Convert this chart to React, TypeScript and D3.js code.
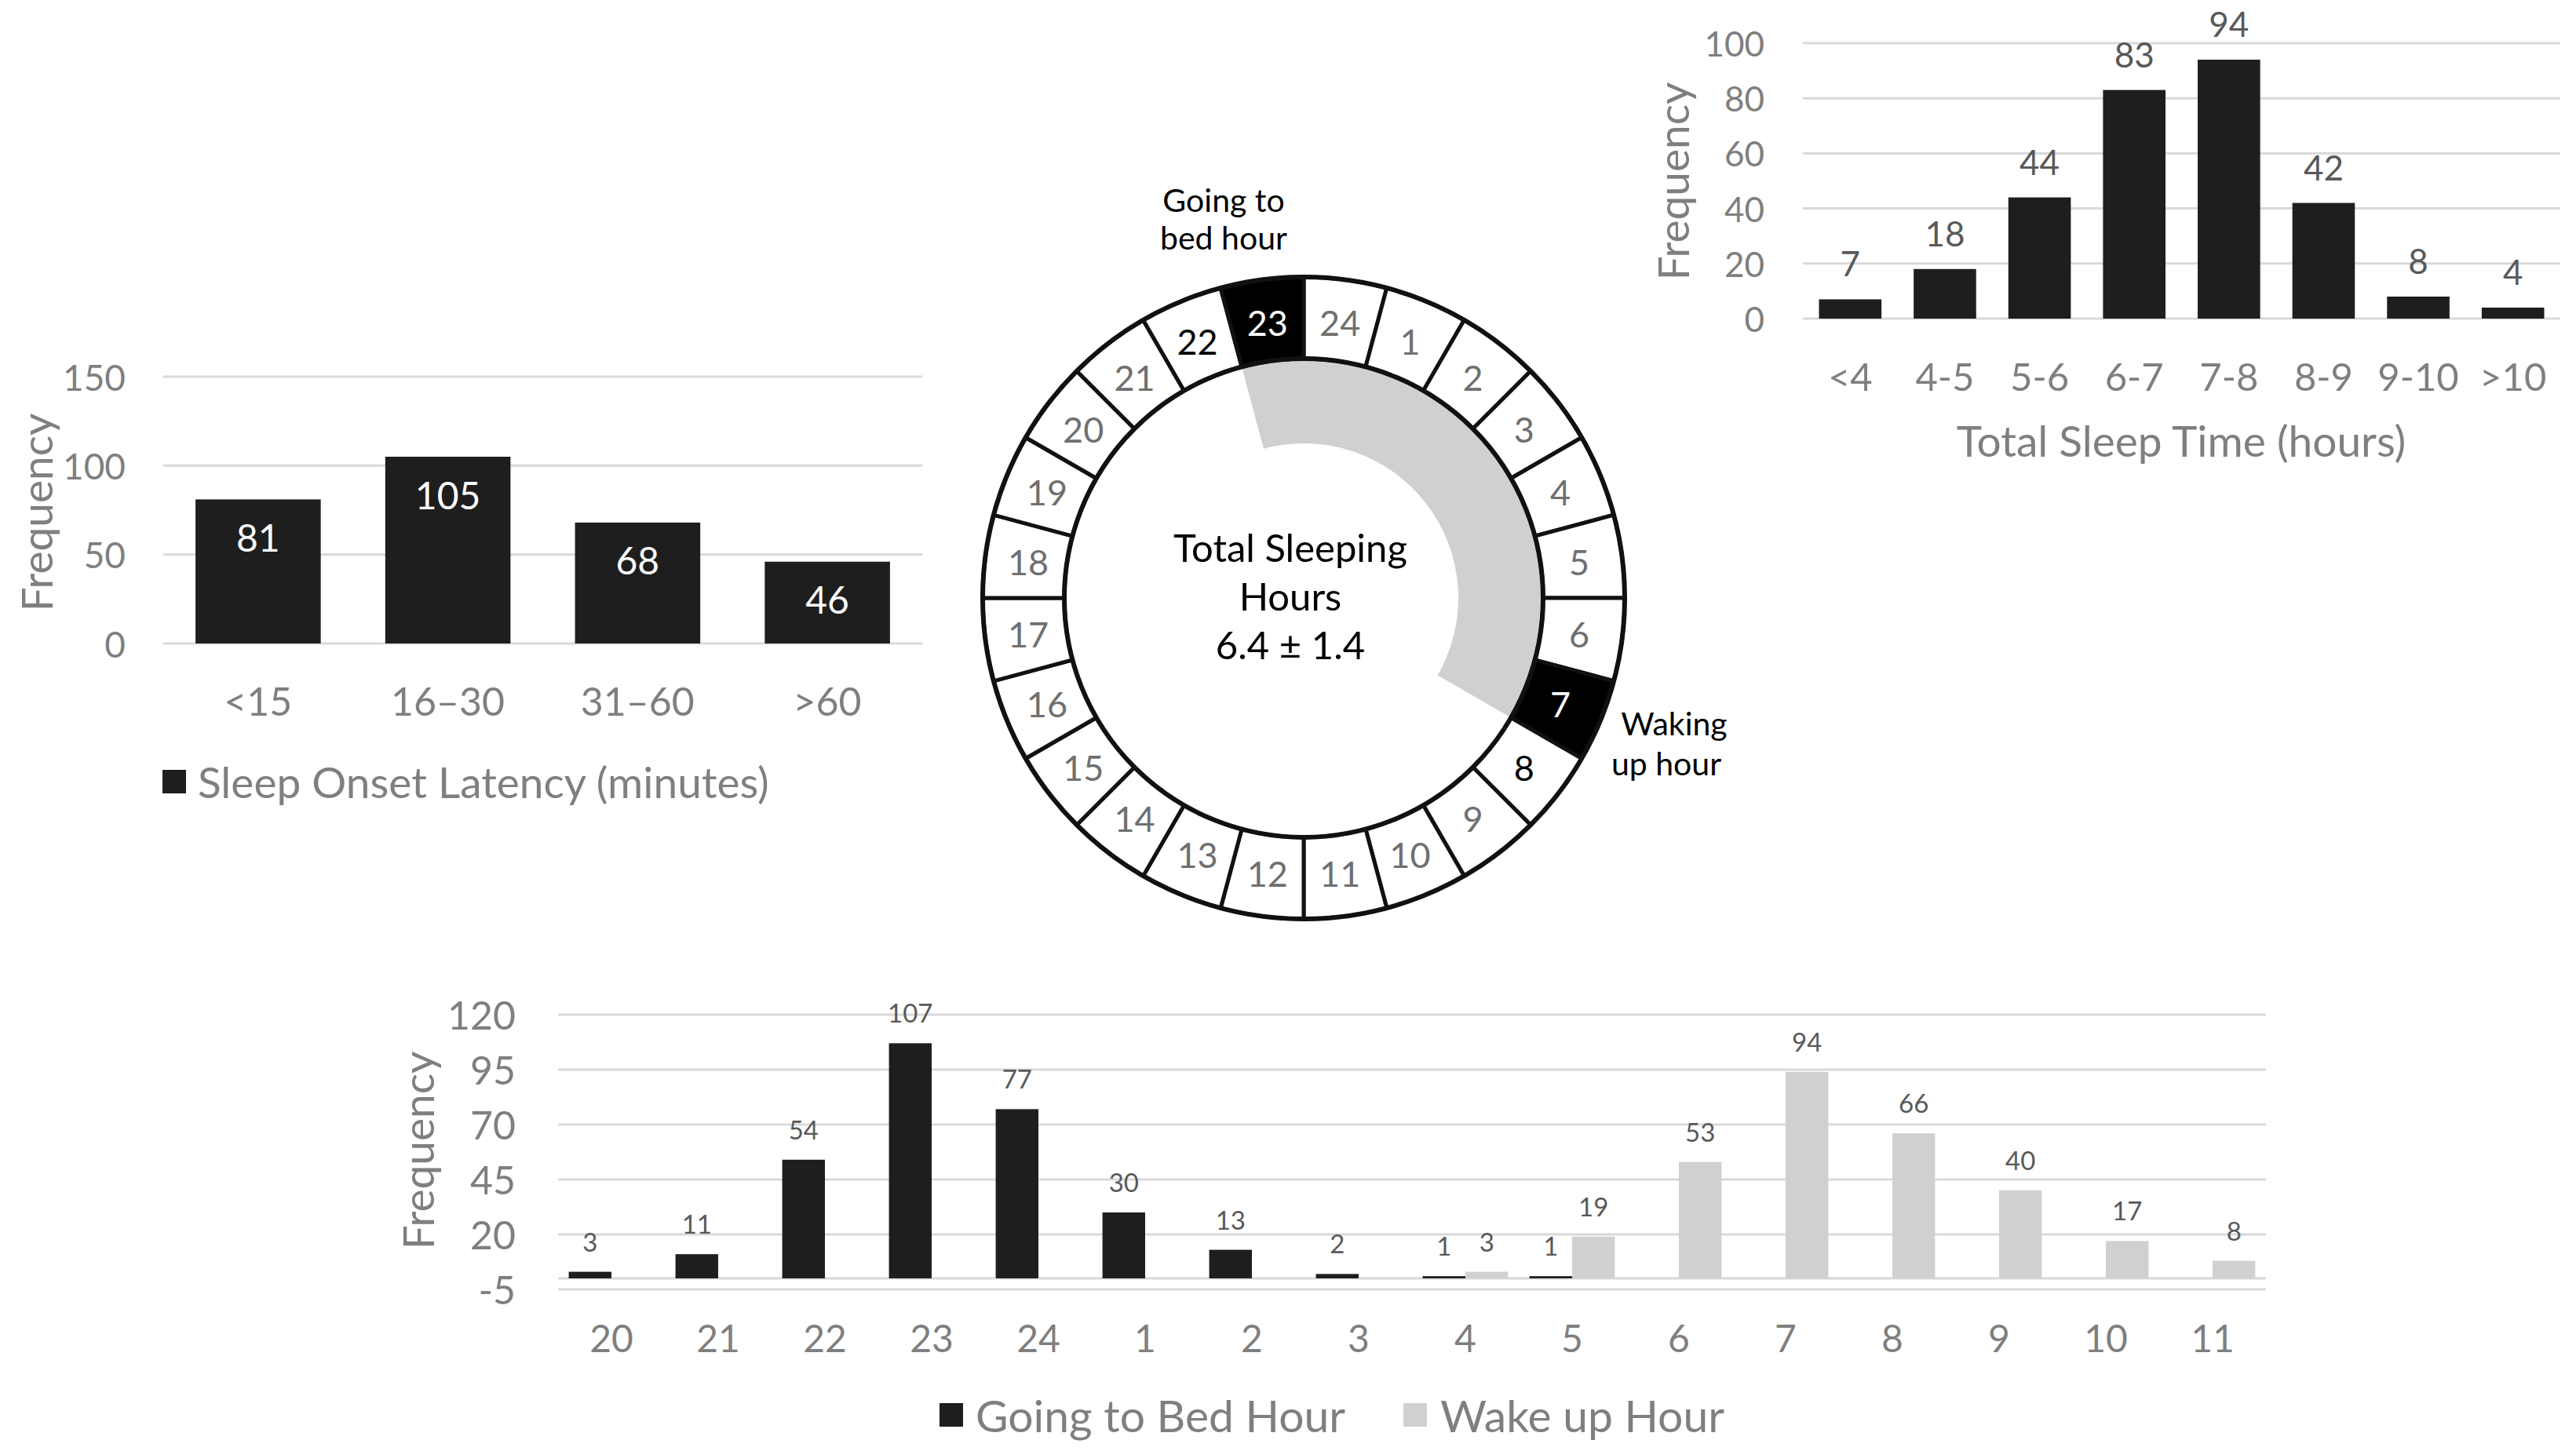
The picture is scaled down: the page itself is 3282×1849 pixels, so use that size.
import React from "react";
import * as d3 from "d3";

// ---- Data ----
const latencyCats = ["<15", "16–30", "31–60", ">60"];
const latencyVals = [81, 105, 68, 46];
const latencyTicks = [0, 50, 100, 150];

const sleepCats = ["<4", "4-5", "5-6", "6-7", "7-8", "8-9", "9-10", ">10"];
const sleepVals = [7, 18, 44, 83, 94, 42, 8, 4];
const sleepTicks = [0, 20, 40, 60, 80, 100];

const hourCats = ["20", "21", "22", "23", "24", "1", "2", "3", "4", "5", "6", "7", "8", "9", "10", "11"];
const bedVals = [3, 11, 54, 107, 77, 30, 13, 2, 1, 1, 0, 0, 0, 0, 0, 0];
const wakeVals = [0, 0, 0, 0, 0, 0, 0, 0, 3, 19, 53, 94, 66, 40, 17, 8];
const hourTicks = [-5, 20, 45, 70, 95, 120];

const ringHours = [24, 1, 2, 3, 4, 5, 6, 7, 8, 9, 10, 11, 12, 13, 14, 15, 16, 17, 18, 19, 20, 21, 22, 23];
const bedHour = 23;
const wakeHour = 7;
const centerLines = ["Total Sleeping", "Hours", "6.4 ± 1.4"];

const FONT = "Lato, 'Open Sans', sans-serif";
const GREY = "#7f7f7f";
const LABEL = "#595959";
const GRID = "#d9d9d9";
const BAR = "#1e1e1e";
const LIGHT = "#d0d0d0";

function LatencyChart() {
  const x = d3.scaleBand<string>().domain(latencyCats).range([208, 1175]).paddingInner(0.34).paddingOuter(0.17);
  const y = d3.scaleLinear().domain([0, 150]).range([820, 480]);
  return (
    <g>
      {latencyTicks.map((t) => (
        <g key={t}>
          <line x1={208} x2={1175} y1={y(t)} y2={y(t)} stroke={GRID} strokeWidth={3} />
          <text x={160} y={y(t)} textAnchor="end" dominantBaseline="central" fill={GREY} fontSize={46}>{t}</text>
        </g>
      ))}
      {latencyCats.map((c, i) => (
        <g key={c}>
          <rect x={x(c)} y={y(latencyVals[i])} width={x.bandwidth()} height={y(0) - y(latencyVals[i])} fill={BAR} />
          <text x={x(c)! + x.bandwidth() / 2} y={y(latencyVals[i]) + 48} textAnchor="middle" dominantBaseline="central" fill="#fff" fontSize={48}>{latencyVals[i]}</text>
          <text x={x(c)! + x.bandwidth() / 2} y={893} textAnchor="middle" dominantBaseline="central" fill={GREY} fontSize={50}>{c}</text>
        </g>
      ))}
      <text transform={`translate(46,653) rotate(-90)`} textAnchor="middle" dominantBaseline="central" fill={GREY} fontSize={55}>Frequency</text>
      <rect x={207} y={981} width={30} height={30} fill={BAR} />
      <text x={252} y={996} dominantBaseline="central" fill={GREY} fontSize={55}>Sleep Onset Latency (minutes)</text>
    </g>
  );
}

function SleepTimeChart() {
  const x = d3.scaleBand<string>().domain(sleepCats).range([2297, 3262]).paddingInner(0.34).paddingOuter(0.17);
  const y = d3.scaleLinear().domain([0, 100]).range([406, 55]);
  return (
    <g>
      {sleepTicks.map((t) => (
        <g key={t}>
          <line x1={2297} x2={3262} y1={y(t)} y2={y(t)} stroke={GRID} strokeWidth={3} />
          <text x={2248} y={y(t)} textAnchor="end" dominantBaseline="central" fill={GREY} fontSize={44}>{t}</text>
        </g>
      ))}
      {sleepCats.map((c, i) => (
        <g key={c}>
          <rect x={x(c)} y={y(sleepVals[i])} width={x.bandwidth()} height={y(0) - y(sleepVals[i])} fill={BAR} />
          <text x={x(c)! + x.bandwidth() / 2} y={y(sleepVals[i]) - 46} textAnchor="middle" dominantBaseline="central" fill={LABEL} fontSize={44}>{sleepVals[i]}</text>
          <text x={x(c)! + x.bandwidth() / 2} y={479} textAnchor="middle" dominantBaseline="central" fill={GREY} fontSize={49}>{c}</text>
        </g>
      ))}
      <text transform={`translate(2131,231) rotate(-90)`} textAnchor="middle" dominantBaseline="central" fill={GREY} fontSize={55}>Frequency</text>
      <text x={2779} y={561} textAnchor="middle" dominantBaseline="central" fill={GREY} fontSize={55}>Total Sleep Time (hours)</text>
    </g>
  );
}

function HourChart() {
  const x0 = d3.scaleBand<string>().domain(hourCats).range([711, 2887]).paddingInner(0.2).paddingOuter(0.1);
  const x1 = d3.scaleBand<string>().domain(["bed", "wake"]).range([0, x0.bandwidth()]);
  const y = d3.scaleLinear().domain([-5, 120]).range([1643, 1293]);
  const series = [
    { key: "bed", vals: bedVals, color: BAR },
    { key: "wake", vals: wakeVals, color: LIGHT },
  ];
  return (
    <g>
      {hourTicks.map((t) => (
        <g key={t}>
          <line x1={711} x2={2887} y1={y(t)} y2={y(t)} stroke={GRID} strokeWidth={3} />
          <text x={657} y={y(t)} textAnchor="end" dominantBaseline="central" fill={GREY} fontSize={50}>{t}</text>
        </g>
      ))}
      <line x1={711} x2={2887} y1={y(0)} y2={y(0)} stroke={GRID} strokeWidth={3} />
      {hourCats.map((c, i) => (
        <g key={c}>
          {series.map((s) =>
            s.vals[i] > 0 ? (
              <g key={s.key}>
                <rect x={x0(c)! + x1(s.key)!} y={y(s.vals[i])} width={x1.bandwidth()} height={y(0) - y(s.vals[i])} fill={s.color} />
                <text x={x0(c)! + x1(s.key)! + x1.bandwidth() / 2} y={y(s.vals[i]) - 39} textAnchor="middle" dominantBaseline="central" fill={LABEL} fontSize={33}>{s.vals[i]}</text>
              </g>
            ) : null
          )}
          <text x={x0(c)! + x0.bandwidth() / 2} y={1704} textAnchor="middle" dominantBaseline="central" fill={GREY} fontSize={48}>{c}</text>
        </g>
      ))}
      <text transform={`translate(532,1466) rotate(-90)`} textAnchor="middle" dominantBaseline="central" fill={GREY} fontSize={55}>Frequency</text>
      <rect x={1197} y={1788} width={30} height={30} fill={BAR} />
      <text x={1243} y={1803} dominantBaseline="central" fill={GREY} fontSize={57}>Going to Bed Hour</text>
      <rect x={1788} y={1788} width={30} height={30} fill={LIGHT} />
      <text x={1835} y={1803} dominantBaseline="central" fill={GREY} fontSize={57}>Wake up Hour</text>
    </g>
  );
}

function Clock() {
  const cx = 1661, cy = 762;
  const rIn = 305, rOut = 409, rSleep = 197;
  const step = (2 * Math.PI) / 24;
  const arc = d3.arc<any>();
  const segPath = (k: number) => arc({ innerRadius: rIn, outerRadius: rOut, startAngle: k * step, endAngle: (k + 1) * step })!;
  const sleepPath = arc({ innerRadius: rSleep, outerRadius: rIn, startAngle: (bedHour - 24) * step, endAngle: (wakeHour + 1) * step })!;
  const labelColor = (h: number) => (h === bedHour || h === wakeHour ? "#fff" : h === bedHour - 1 || h === wakeHour + 1 ? "#000" : "#6f6f6f");
  return (
    <g transform={`translate(${cx},${cy})`}>
      <path d={sleepPath} fill={LIGHT} />
      {ringHours.map((h, k) => {
        const a = (k + 0.5) * step;
        return (
          <g key={h}>
            <path d={segPath(k)} fill={h === bedHour || h === wakeHour ? "#000" : "#fff"} stroke="#111" strokeWidth={5} />
            <text x={354 * Math.sin(a)} y={-354 * Math.cos(a)} textAnchor="middle" dominantBaseline="central" fill={labelColor(h)} fontSize={45}>{h}</text>
          </g>
        );
      })}
      <circle r={rOut} fill="none" stroke="#111" strokeWidth={6} />
      <circle r={rIn} fill="none" stroke="#111" strokeWidth={6} />
      {centerLines.map((l, i) => (
        <text key={i} x={-17} y={-65 + i * 62} textAnchor="middle" dominantBaseline="central" fill="#000" fontSize={49}>{l}</text>
      ))}
      <text x={-102} y={-508} textAnchor="middle" dominantBaseline="central" fill="#000" fontSize={41}>Going to</text>
      <text x={-102} y={-460} textAnchor="middle" dominantBaseline="central" fill="#000" fontSize={41}>bed hour</text>
      <text x={472} y={159} textAnchor="middle" dominantBaseline="central" fill="#000" fontSize={41}>Waking</text>
      <text x={462} y={210} textAnchor="middle" dominantBaseline="central" fill="#000" fontSize={41}>up hour</text>
    </g>
  );
}

export default function App() {
  return (
    <svg width={3282} height={1849} style={{ position: "absolute", left: 0, top: 0, background: "#fff" }} fontFamily={FONT}>
      <rect width={3282} height={1849} fill="#fff" />
      <LatencyChart />
      <SleepTimeChart />
      <HourChart />
      <Clock />
    </svg>
  );
}
